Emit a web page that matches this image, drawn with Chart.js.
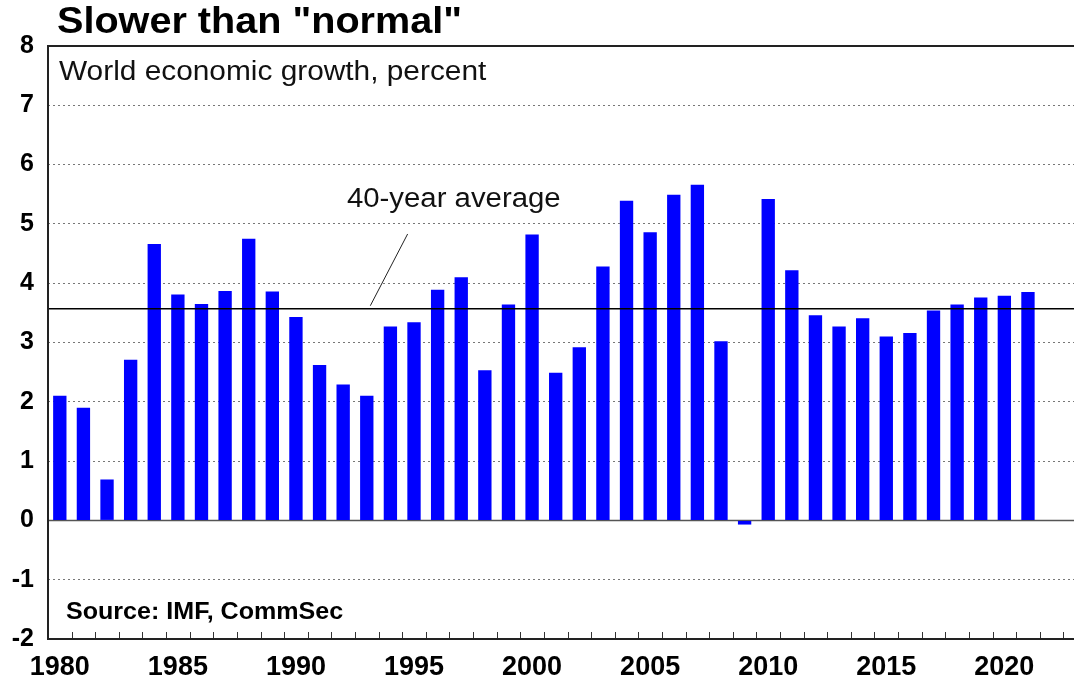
<!DOCTYPE html>
<html>
<head>
<meta charset="utf-8">
<title>Slower than "normal"</title>
<script src="https://cdn.jsdelivr.net/npm/chart.js@4.4.0/dist/chart.umd.min.js"></script>
<style>
  body { margin: 0; overflow: hidden; background: #fff; }
  #wrap { position: relative; width: 1087px; height: 678px; }
</style>
</head>
<body>
<div id="wrap"><canvas id="myChart"></canvas></div>
<script>
var years = [1980, 1981, 1982, 1983, 1984, 1985, 1986, 1987, 1988, 1989,
  1990, 1991, 1992, 1993, 1994, 1995, 1996, 1997, 1998, 1999,
  2000, 2001, 2002, 2003, 2004, 2005, 2006, 2007, 2008, 2009,
  2010, 2011, 2012, 2013, 2014, 2015, 2016, 2017, 2018, 2019,
  2020, 2021, 2022, 2023]
var growth = [2.10, 1.90, 0.69, 2.71, 4.66, 3.81, 3.65, 3.87, 4.75, 3.86,
  3.43, 2.62, 2.29, 2.10, 3.27, 3.34, 3.89, 4.10, 2.53, 3.64,
  4.82, 2.49, 2.92, 4.28, 5.39, 4.86, 5.49, 5.66, 3.02, -0.07,
  5.42, 4.22, 3.46, 3.27, 3.41, 3.10, 3.16, 3.54, 3.64, 3.76,
  3.79, 3.85, null, null]
var yMin = -2
var yMax = 8
var avgGrowth = 3.57

var titleText = 'Slower than "normal"'
var subtitleText = 'World economic growth, percent'
var avgLabel = '40-year average'
var sourceText = 'Source: IMF, CommSec'

// where the "40-year average" note sits (category index, value)
var noteText = { x: 12.16, y: 5.29 }
var noteLine = { x1: 14.73, y1: 4.83, x2: 13.15, y2: 3.62 }

var FONT = '"Liberation Sans", Arial, sans-serif'
Chart.defaults.font.family = FONT
Chart.defaults.color = '#000'

function hline(ctx, x1, x2, y) {
  ctx.beginPath()
  ctx.moveTo(x1, y)
  ctx.lineTo(x2, y)
  ctx.stroke()
}

// the original lettering is a bit wider than Arial, so stretch it sideways
function wideText(ctx, text, x, y, sx) {
  ctx.save()
  ctx.translate(x, y)
  ctx.scale(sx, 1)
  ctx.fillText(text, 0, 0)
  ctx.restore()
}

var decorations = {
  id: 'decorations',
  beforeDatasetsDraw(chart) {
    const { ctx, chartArea: a, scales: { y } } = chart
    ctx.save()
    ctx.strokeStyle = '#555'
    ctx.lineWidth = 1.5
    hline(ctx, a.left, a.right, y.getPixelForValue(0))
    ctx.restore()
  },
  afterDatasetsDraw(chart) {
    const { ctx, chartArea: a, scales: { x, y } } = chart
    ctx.save()

    // average line
    ctx.strokeStyle = '#000'
    ctx.lineWidth = 1.5
    hline(ctx, a.left, a.right, y.getPixelForValue(avgGrowth))

    // leader line of the note
    ctx.lineWidth = 1
    ctx.strokeStyle = '#222'
    ctx.beginPath()
    ctx.moveTo(x.getPixelForValue(noteLine.x1), y.getPixelForValue(noteLine.y1))
    ctx.lineTo(x.getPixelForValue(noteLine.x2), y.getPixelForValue(noteLine.y2))
    ctx.stroke()

    // inward ticks on the bottom axis
    ctx.strokeStyle = '#333'
    for (let i = 0; i <= years.length; i++) {
      const px = Math.round(x.getPixelForValue(i - 0.5)) + 0.5
      ctx.beginPath()
      ctx.moveTo(px, a.bottom)
      ctx.lineTo(px, a.bottom - 7)
      ctx.stroke()
    }

    // frame
    ctx.strokeStyle = '#222'
    ctx.lineWidth = 2
    ctx.strokeRect(a.left, a.top, a.right - a.left, a.bottom - a.top)

    // texts
    ctx.fillStyle = '#000'
    ctx.textBaseline = 'alphabetic'
    ctx.textAlign = 'left'
    ctx.font = 'bold 36px ' + FONT
    wideText(ctx, titleText, 57, 33, 1.1)
    ctx.font = '27px ' + FONT
    ctx.fillStyle = '#111'
    wideText(ctx, subtitleText, a.left + 11, 80, 1.105)
    wideText(ctx, avgLabel, x.getPixelForValue(noteText.x), y.getPixelForValue(noteText.y), 1.087)
    ctx.font = 'bold 23px ' + FONT
    ctx.fillStyle = '#000'
    wideText(ctx, sourceText, a.left + 18, 619, 1.09)
    ctx.restore()
  }
}

new Chart('myChart', {
  type: 'bar',
  data: {
    labels: years,
    datasets: [
      {
        data: growth,
        backgroundColor: '#0000ff',
        borderWidth: 0,
        barPercentage: 0.565,
        categoryPercentage: 1,
      },
    ],
  },
  options: {
    responsive: true,
    maintainAspectRatio: false,
    animation: false,
    events: [],
    layout: { padding: { top: 46, left: 0, right: 0, bottom: 0 } },
    plugins: {
      legend: { display: false },
      title: { display: false },
      tooltip: { enabled: false },
    },
    scales: {
      x: {
        offset: true,
        grid: { display: false },
        border: { display: false },
        ticks: {
          autoSkip: false,
          maxRotation: 0,
          padding: 4,
          font: { size: 27, weight: 'bold' },
          callback: function (v) {
            var yr = years[v]
            return yr % 5 === 0 ? String(yr) : ''
          },
        },
        afterFit: function (s) { s.height = 39 },
      },
      y: {
        min: yMin,
        max: yMax,
        border: { display: false, dash: [2, 3] },
        grid: {
          drawTicks: false,
          lineWidth: 1,
          color: function (c) {
            var v = c.tick.value
            return v === 0 || v === yMin || v === yMax ? 'rgba(0,0,0,0)' : '#777'
          },
        },
        ticks: {
          stepSize: 1,
          padding: 14,
          font: { size: 25, weight: 'bold' },
        },
        afterFit: function (s) { s.width = 48 },
      },
    },
  },
  plugins: [decorations],
})
</script>
</body>
</html>
